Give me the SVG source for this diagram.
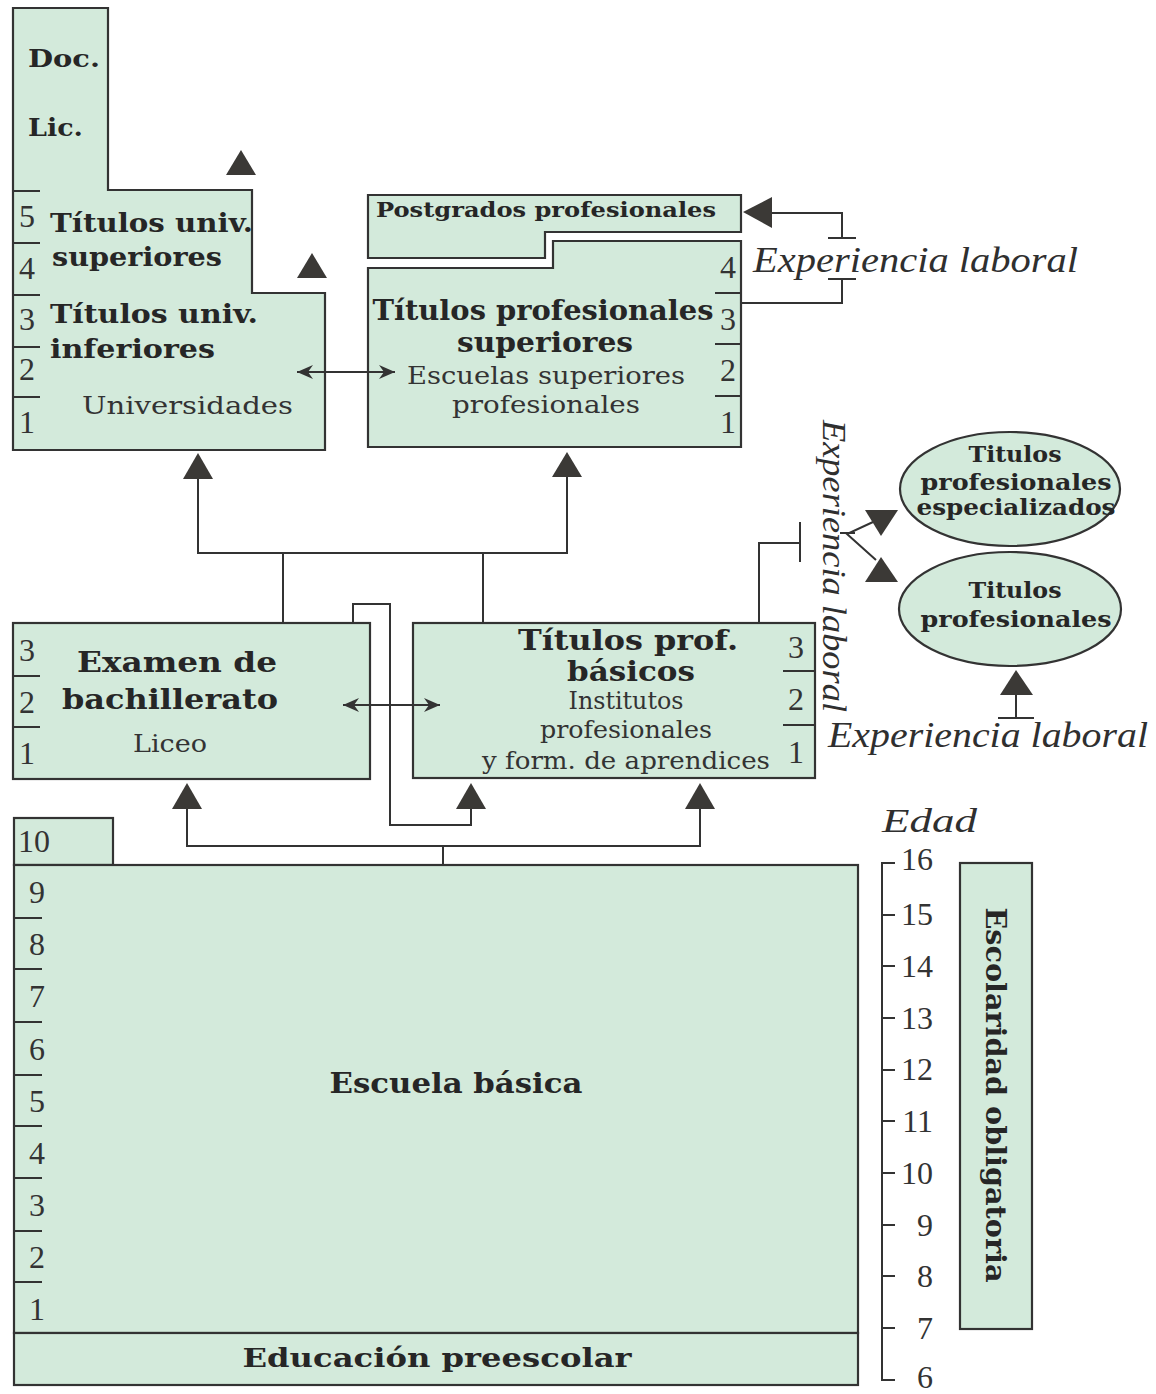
<svg xmlns="http://www.w3.org/2000/svg" width="1156" height="1394" viewBox="0 0 1156 1394">
<defs>
<style>
.box{fill:#d3eadb;stroke:#333;stroke-width:2.2}
.b{font-family:"DejaVu Serif","Liberation Serif",serif;font-weight:bold;fill:#262626}
.r{font-family:"DejaVu Serif","Liberation Serif",serif;fill:#333}
.it{font-family:"Liberation Serif",serif;font-style:italic;fill:#2f2f2f}
.n{font-family:"Liberation Serif",serif;fill:#333;font-size:32px}
.ln{stroke:#333;stroke-width:2;fill:none}
.tk{stroke:#333;stroke-width:2}
.tri{fill:#3b3936}
.m{text-anchor:middle}
.e{text-anchor:end}
</style>
<marker id="barb" viewBox="0 0 16 16" refX="16" refY="8" markerWidth="16" markerHeight="16" markerUnits="userSpaceOnUse" orient="auto-start-reverse">
<path d="M0,1 L16,8 L0,15 L5,8 Z" fill="#333"/>
</marker>
</defs>
<rect width="1156" height="1394" fill="#ffffff"/>

<g id="universidades">
<path class="box" d="M13,8 H108 V190 H252 V293 H325 V450 H13 Z"/>
<line class="tk" x1="13" y1="191" x2="40" y2="191"/>
<line class="tk" x1="13" y1="243" x2="40" y2="243"/>
<line class="tk" x1="13" y1="295" x2="40" y2="295"/>
<line class="tk" x1="13" y1="347" x2="40" y2="347"/>
<line class="tk" x1="13" y1="397" x2="40" y2="397"/>
<text class="n m" x="27" y="227">5</text>
<text class="n m" x="27" y="279">4</text>
<text class="n m" x="27" y="330">3</text>
<text class="n m" x="27" y="380">2</text>
<text class="n m" x="27" y="433">1</text>
<text class="b" x="28" y="67" font-size="25" textLength="72" lengthAdjust="spacingAndGlyphs">Doc.</text>
<text class="b" x="28" y="136" font-size="25" textLength="55" lengthAdjust="spacingAndGlyphs">Lic.</text>
<text class="b" x="50" y="232" font-size="26" textLength="203" lengthAdjust="spacingAndGlyphs">Títulos univ.</text>
<text class="b" x="52" y="266" font-size="26" textLength="170" lengthAdjust="spacingAndGlyphs">superiores</text>
<text class="b" x="50" y="323" font-size="26" textLength="208" lengthAdjust="spacingAndGlyphs">Títulos univ.</text>
<text class="b" x="50" y="358" font-size="26" textLength="165" lengthAdjust="spacingAndGlyphs">inferiores</text>
<text class="r" x="82" y="414" font-size="24.5" textLength="211" lengthAdjust="spacingAndGlyphs">Universidades</text>
</g>

<g id="postgrados">
<path class="box" d="M368,195 H741 V232 H545 V258 H368 Z"/>
<text class="b" x="376" y="217" font-size="20" textLength="340" lengthAdjust="spacingAndGlyphs">Postgrados profesionales</text>
</g>

<g id="titulos-prof-superiores">
<path class="box" d="M368,268 H553 V241 H741 V447 H368 Z"/>
<line class="tk" x1="715" y1="293" x2="741" y2="293"/>
<line class="tk" x1="715" y1="344" x2="741" y2="344"/>
<line class="tk" x1="715" y1="396" x2="741" y2="396"/>
<text class="n m" x="728" y="278">4</text>
<text class="n m" x="728" y="330">3</text>
<text class="n m" x="728" y="381">2</text>
<text class="n m" x="728" y="433">1</text>
<text class="b m" x="543" y="320" font-size="27" textLength="341" lengthAdjust="spacingAndGlyphs">Títulos profesionales</text>
<text class="b m" x="545" y="352" font-size="27" textLength="176" lengthAdjust="spacingAndGlyphs">superiores</text>
<text class="r m" x="546" y="384" font-size="24.5" textLength="278" lengthAdjust="spacingAndGlyphs">Escuelas superiores</text>
<text class="r m" x="546" y="413" font-size="24.5" textLength="188" lengthAdjust="spacingAndGlyphs">profesionales</text>
</g>

<g id="examen-bachillerato">
<rect class="box" x="13" y="623" width="357" height="156"/>
<line class="tk" x1="13" y1="676" x2="40" y2="676"/>
<line class="tk" x1="13" y1="727" x2="40" y2="727"/>
<text class="n m" x="27" y="661">3</text>
<text class="n m" x="27" y="713">2</text>
<text class="n m" x="27" y="764">1</text>
<text class="b m" x="177" y="672" font-size="27" textLength="200" lengthAdjust="spacingAndGlyphs">Examen de</text>
<text class="b m" x="170" y="709" font-size="27" textLength="216" lengthAdjust="spacingAndGlyphs">bachillerato</text>
<text class="r m" x="170" y="752" font-size="24.5" textLength="74" lengthAdjust="spacingAndGlyphs">Liceo</text>
</g>

<g id="titulos-prof-basicos">
<rect class="box" x="413" y="623" width="402" height="155"/>
<line class="tk" x1="783" y1="671" x2="815" y2="671"/>
<line class="tk" x1="783" y1="725" x2="815" y2="725"/>
<text class="n m" x="796" y="658">3</text>
<text class="n m" x="796" y="710">2</text>
<text class="n m" x="796" y="763">1</text>
<text class="b m" x="628" y="650" font-size="27" textLength="220" lengthAdjust="spacingAndGlyphs">Títulos prof.</text>
<text class="b m" x="631" y="681" font-size="27" textLength="128" lengthAdjust="spacingAndGlyphs">básicos</text>
<text class="r m" x="626" y="709" font-size="24.5" textLength="115" lengthAdjust="spacingAndGlyphs">Institutos</text>
<text class="r m" x="626" y="738" font-size="24.5" textLength="172" lengthAdjust="spacingAndGlyphs">profesionales</text>
<text class="r m" x="626" y="769" font-size="24.5" textLength="288" lengthAdjust="spacingAndGlyphs">y form. de aprendices</text>
</g>

<g id="titulos-prof-especializados">
<ellipse class="box" cx="1010" cy="489" rx="110" ry="57"/>
<text class="b m" x="1015" y="462" font-size="22.5" textLength="93" lengthAdjust="spacingAndGlyphs">Titulos</text>
<text class="b m" x="1016" y="490" font-size="22.5" textLength="191" lengthAdjust="spacingAndGlyphs">profesionales</text>
<text class="b m" x="1016" y="515" font-size="22.5" textLength="199" lengthAdjust="spacingAndGlyphs">especializados</text>
</g>

<g id="titulos-profesionales">
<ellipse class="box" cx="1010" cy="609" rx="111" ry="57"/>
<text class="b m" x="1015" y="598" font-size="22.5" textLength="93" lengthAdjust="spacingAndGlyphs">Titulos</text>
<text class="b m" x="1016" y="627" font-size="22.5" textLength="191" lengthAdjust="spacingAndGlyphs">profesionales</text>
</g>

<g id="escuela-basica">
<rect class="box" x="14" y="818" width="99" height="47"/>
<rect class="box" x="14" y="865" width="844" height="468"/>
<text class="n" x="18" y="852">10</text>
<line class="tk" x1="15" y1="918" x2="42" y2="918"/>
<line class="tk" x1="15" y1="969" x2="42" y2="969"/>
<line class="tk" x1="15" y1="1022" x2="42" y2="1022"/>
<line class="tk" x1="15" y1="1075" x2="42" y2="1075"/>
<line class="tk" x1="15" y1="1126" x2="42" y2="1126"/>
<line class="tk" x1="15" y1="1178" x2="42" y2="1178"/>
<line class="tk" x1="15" y1="1231" x2="42" y2="1231"/>
<line class="tk" x1="15" y1="1282" x2="42" y2="1282"/>
<text class="n m" x="37" y="903">9</text>
<text class="n m" x="37" y="955">8</text>
<text class="n m" x="37" y="1007">7</text>
<text class="n m" x="37" y="1060">6</text>
<text class="n m" x="37" y="1112">5</text>
<text class="n m" x="37" y="1164">4</text>
<text class="n m" x="37" y="1216">3</text>
<text class="n m" x="37" y="1268">2</text>
<text class="n m" x="37" y="1320">1</text>
<text class="b m" x="456" y="1093" font-size="27" textLength="253" lengthAdjust="spacingAndGlyphs">Escuela básica</text>
</g>

<g id="educacion-preescolar">
<rect class="box" x="14" y="1333" width="844" height="52"/>
<text class="b m" x="437" y="1367" font-size="26" textLength="389" lengthAdjust="spacingAndGlyphs">Educación preescolar</text>
</g>

<g id="escolaridad-obligatoria">
<rect class="box" x="960" y="863" width="72" height="466"/>
<text class="b m" transform="translate(986,1095) rotate(90)" x="0" y="0" font-size="27" textLength="375" lengthAdjust="spacingAndGlyphs">Escolaridad obligatoria</text>
</g>

<g id="edad">
<text class="it" x="882" y="832" font-size="34" textLength="95" lengthAdjust="spacingAndGlyphs">Edad</text>
<path class="ln" d="M895,863 H882 V1380 H895"/>
<line class="tk" x1="882" y1="915" x2="895" y2="915"/>
<line class="tk" x1="882" y1="966" x2="895" y2="966"/>
<line class="tk" x1="882" y1="1018" x2="895" y2="1018"/>
<line class="tk" x1="882" y1="1070" x2="895" y2="1070"/>
<line class="tk" x1="882" y1="1121" x2="895" y2="1121"/>
<line class="tk" x1="882" y1="1173" x2="895" y2="1173"/>
<line class="tk" x1="882" y1="1225" x2="895" y2="1225"/>
<line class="tk" x1="882" y1="1276" x2="895" y2="1276"/>
<line class="tk" x1="882" y1="1328" x2="895" y2="1328"/>
<text class="n e" x="933" y="870">16</text>
<text class="n e" x="933" y="925">15</text>
<text class="n e" x="933" y="977">14</text>
<text class="n e" x="933" y="1029">13</text>
<text class="n e" x="933" y="1080">12</text>
<text class="n e" x="933" y="1132">11</text>
<text class="n e" x="933" y="1184">10</text>
<text class="n e" x="933" y="1236">9</text>
<text class="n e" x="933" y="1287">8</text>
<text class="n e" x="933" y="1339">7</text>
<text class="n e" x="933" y="1388">6</text>
</g>

<g id="experiencia-laboral-labels">
<text class="it" x="753" y="272" font-size="36" textLength="325" lengthAdjust="spacingAndGlyphs">Experiencia laboral</text>
<text class="it m" transform="translate(823,566) rotate(90)" x="0" y="0" font-size="34" textLength="292" lengthAdjust="spacingAndGlyphs">Experiencia laboral</text>
<text class="it" x="828" y="747" font-size="36" textLength="320" lengthAdjust="spacingAndGlyphs">Experiencia laboral</text>
</g>

<g id="connectors">
<line class="ln" x1="297" y1="372" x2="395" y2="372" marker-start="url(#barb)" marker-end="url(#barb)"/>
<line class="ln" x1="343" y1="705" x2="440" y2="705" marker-start="url(#barb)" marker-end="url(#barb)"/>
<polygon class="tri" points="226,175 256,175 241,150"/>
<polygon class="tri" points="297,278 327,278 312,253"/>
<path class="ln" d="M198,479 V553 H567 V477"/>
<polygon class="tri" points="183,479 213,479 198,453"/>
<polygon class="tri" points="552,477 582,477 567,452"/>
<line class="ln" x1="283" y1="553" x2="283" y2="623"/>
<line class="ln" x1="483" y1="553" x2="483" y2="623"/>
<path class="ln" d="M353,623 V604 H390 V825 H471 V809"/>
<polygon class="tri" points="456,809 486,809 471,783"/>
<path class="ln" d="M443,865 V846"/>
<path class="ln" d="M187,809 V846 H700 V809"/>
<polygon class="tri" points="172,809 202,809 187,783"/>
<polygon class="tri" points="685,809 715,809 700,783"/>
<path class="ln" d="M741,303 H842 V279"/>
<line class="tk" x1="828" y1="279" x2="856" y2="279"/>
<line class="tk" x1="828" y1="238" x2="856" y2="238"/>
<path class="ln" d="M842,238 V213 H770"/>
<polygon class="tri" points="743,212 772,197 772,228"/>
<path class="ln" d="M759,623 V543 H800"/>
<line class="tk" x1="800" y1="522" x2="800" y2="562"/>
<line class="tk" x1="840" y1="533" x2="855" y2="533"/>
<path class="ln" d="M873,522 L847,534 L876,560"/>
<polygon class="tri" points="865,510 898,510 881,536"/>
<polygon class="tri" points="865,582 898,582 881,557"/>
<polygon class="tri" points="1000,695 1033,695 1016,670"/>
<line class="ln" x1="1016" y1="695" x2="1016" y2="718"/>
<line class="tk" x1="998" y1="718" x2="1034" y2="718"/>
</g>
</svg>
